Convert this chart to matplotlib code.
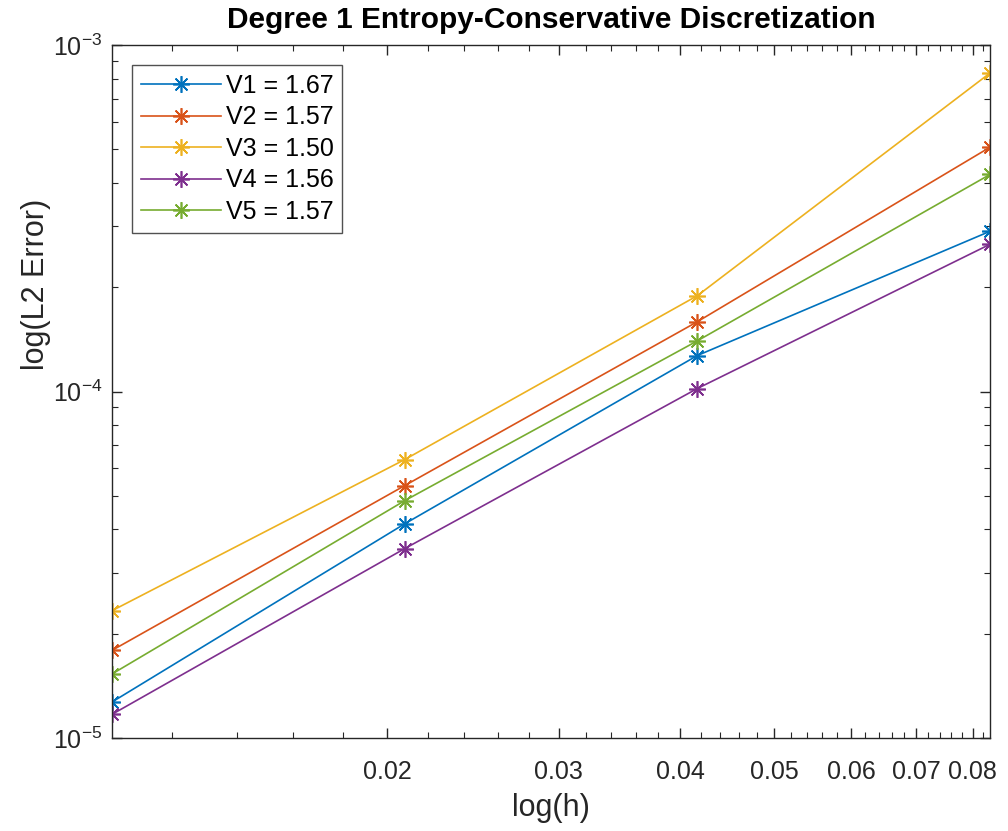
import numpy as np
import matplotlib
matplotlib.use("Agg")
import matplotlib.pyplot as plt
from matplotlib.ticker import FixedLocator, FixedFormatter, LogLocator

plt.rcParams['font.family'] = ['Liberation Sans', 'DejaVu Sans']
plt.rcParams['mathtext.fontset'] = 'custom'
plt.rcParams['mathtext.rm'] = 'Liberation Sans'
plt.rcParams['mathtext.it'] = 'Liberation Sans'

# mesh sizes h and L2 errors for each variant
h = [1 / 96, 1 / 48, 1 / 24, 1 / 12]
v1 = [1.27e-5, 4.15e-5, 1.27e-4, 2.90e-4]
v2 = [1.79e-5, 5.35e-5, 1.59e-4, 5.07e-4]
v3 = [2.33e-5, 6.36e-5, 1.89e-4, 8.30e-4]
v4 = [1.17e-5, 3.52e-5, 1.02e-4, 2.66e-4]
v5 = [1.53e-5, 4.84e-5, 1.40e-4, 4.23e-4]
labels = ["V1 = 1.67", "V2 = 1.57", "V3 = 1.50", "V4 = 1.56", "V5 = 1.57"]
colors = ["#0072BD", "#D95319", "#EDB120", "#7E2F8E", "#77AC30"]

xticks = [0.02, 0.03, 0.04, 0.05, 0.06, 0.07, 0.08]
xtick_labels = ["0.02", "0.03", "0.04", "0.05", "0.06", "0.07", "0.08"]

fig = plt.figure(figsize=(10.08, 8.31), dpi=100)
ax = fig.add_axes([112 / 1008, 1 - 738 / 831, (990 - 112) / 1008, (738 - 45) / 831])

# matlab style '*' marker: 8 spokes
star = (8, 2, 0)
for ys, lab, c in zip([v1, v2, v3, v4, v5], labels, colors):
    ax.loglog(h, ys, '-', marker=star, color=c, label=lab, linewidth=1.2,
              markersize=12, markeredgewidth=1.2)

ax.set_xlim(1 / 96, 1 / 12)
ax.set_ylim(1e-5, 1e-3)

ax.xaxis.set_major_locator(FixedLocator(xticks))
ax.xaxis.set_major_formatter(FixedFormatter(xtick_labels))
minor_x = [m / 1000 for m in range(12, 84, 2) if m % 10 != 0]
ax.xaxis.set_minor_locator(FixedLocator(minor_x))
ax.xaxis.set_minor_formatter(FixedFormatter([]))
ax.yaxis.set_major_locator(LogLocator(base=10, numticks=10))
ax.yaxis.set_minor_locator(LogLocator(base=10, subs=np.arange(2, 10), numticks=10))

ax.tick_params(which='both', direction='in', top=True, right=True,
               colors='#262626', labelsize=18, labelcolor='#262626')
ax.tick_params(which='major', length=7, width=1)
ax.tick_params(which='minor', length=4, width=0.8)
ax.tick_params(axis='x', pad=16)
ax.tick_params(axis='y', pad=7)
for s in ax.spines.values():
    s.set_color('#262626')
    s.set_linewidth(1)

ax.set_xlabel("log(h)", fontsize=22, color='#262626', labelpad=6)
ax.set_ylabel("log(L2 Error)", fontsize=22, color='#262626')
ax.yaxis.set_label_coords(-0.07, 0.654)
ax.set_title("Degree 1 Entropy-Conservative Discretization", fontsize=21.5,
             fontweight='bold', pad=12)

leg = ax.legend(loc='upper left', fontsize=18, frameon=True, fancybox=False,
                edgecolor='#262626', handlelength=3.2, borderaxespad=0.8,
                labelspacing=0.3, handletextpad=0.2, borderpad=0.35)
leg.get_frame().set_linewidth(1)

fig.savefig("out.png", dpi=100)
